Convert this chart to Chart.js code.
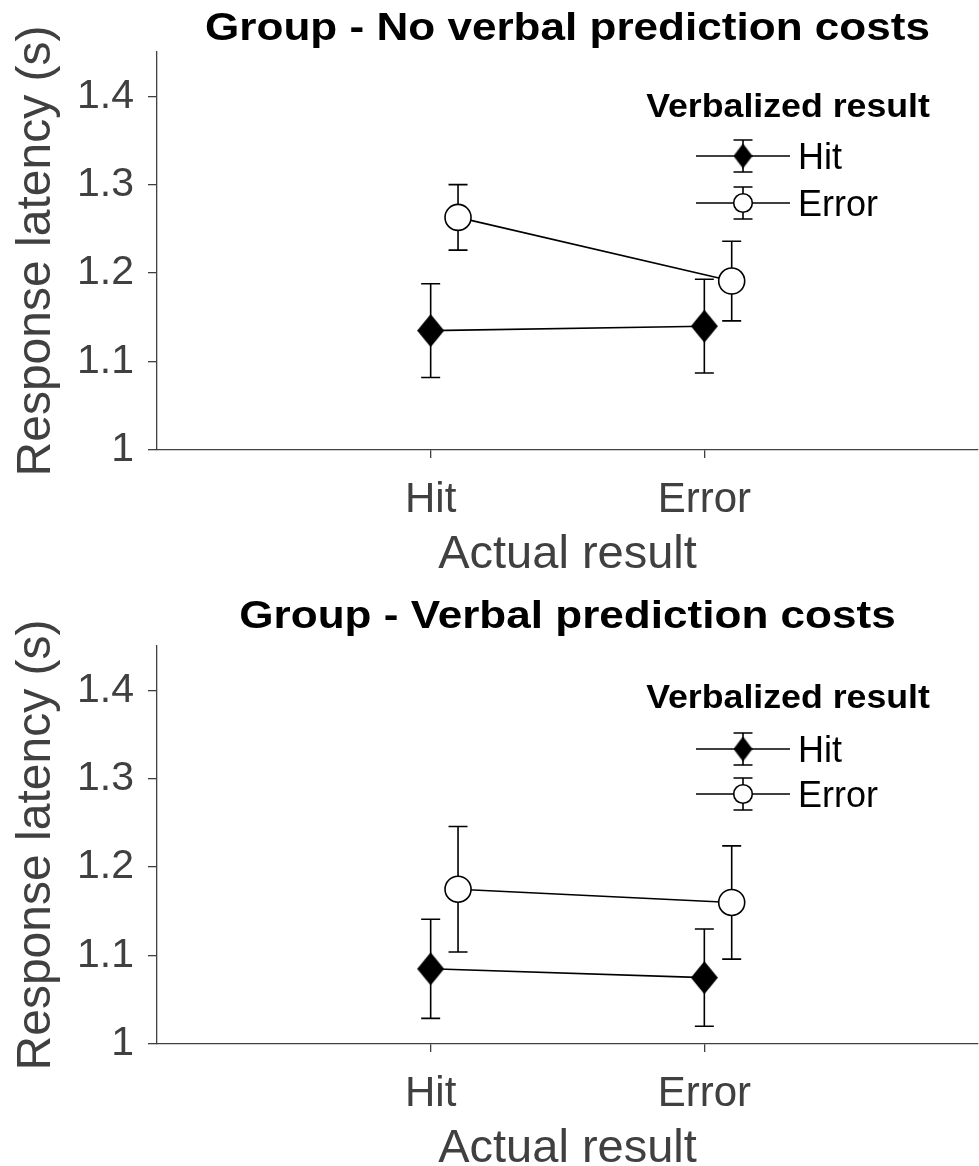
<!DOCTYPE html>
<html><head><meta charset="utf-8">
<script src="https://cdn.jsdelivr.net/npm/chart.js@4.4.1/dist/chart.umd.min.js"></script>
<style>
html,body{margin:0;padding:0;background:#fff;overflow:hidden;width:979px;height:1166px}
canvas{display:block;position:absolute;left:0}
#c1{top:0}#c2{top:594px}
</style></head>
<body>
<canvas id="c1" width="979" height="594"></canvas>
<canvas id="c2" width="979" height="594"></canvas>
<script>
// ---------- data ----------
const categories = ['Hit', 'Error'];          // actual result (x axis)
const categoryX = [1, 2];
const seriesNames = ['Hit', 'Error'];         // verbalized result (legend)
const panelTitles = ['Group - No verbal prediction costs', 'Group - Verbal prediction costs'];
const yTicks = [1, 1.1, 1.2, 1.3, 1.4];
const yTickLabels = ['1', '1.1', '1.2', '1.3', '1.4'];

// panel 1: no verbal prediction costs
const noCostHitMean = [1.135, 1.140];
const noCostHitErr  = [0.053, 0.053];
const noCostErrMean = [1.263, 1.191];
const noCostErrErr  = [0.037, 0.045];
// panel 2: verbal prediction costs
const costHitMean = [1.085, 1.075];
const costHitErr  = [0.056, 0.055];
const costErrMean = [1.175, 1.160];
const costErrErr  = [0.071, 0.064];

// ---------- style ----------
const FONT = '"Liberation Sans", Arial, Helvetica, sans-serif';
const AXIS = '#404040';
const seriesOffset = [0, 0.1];

function makeDiamond(hw, hh) {
  const c = document.createElement('canvas');
  c.width = Math.round(hw * 2); c.height = Math.round(hh * 2);
  const g = c.getContext('2d');
  g.fillStyle = '#000';
  g.beginPath();
  g.moveTo(c.width / 2, 0); g.lineTo(c.width, c.height / 2);
  g.lineTo(c.width / 2, c.height); g.lineTo(0, c.height / 2);
  g.closePath(); g.fill();
  return c;
}
const bigDiamond = makeDiamond(13.5, 16.5);
const smallDiamond = makeDiamond(9.5, 12.5);

function drawStretched(ctx, text, cx, baseline, font, sx, color, align) {
  ctx.save();
  ctx.font = font; ctx.fillStyle = color;
  ctx.textAlign = align || 'center'; ctx.textBaseline = 'alphabetic';
  ctx.translate(cx, baseline); ctx.scale(sx, 1);
  ctx.fillText(text, 0, 0);
  ctx.restore();
}

function errorBar(ctx, x, yTop, yBot, cap, lw) {
  ctx.beginPath();
  ctx.moveTo(x, yTop); ctx.lineTo(x, yBot);
  ctx.moveTo(x - cap, yTop); ctx.lineTo(x + cap, yTop);
  ctx.moveTo(x - cap, yBot); ctx.lineTo(x + cap, yBot);
  ctx.lineWidth = lw; ctx.strokeStyle = '#000'; ctx.stroke();
}

const errorBarPlugin = {
  id: 'errorBars',
  beforeDatasetsDraw(chart) {
    const ctx = chart.ctx, ys = chart.scales.y;
    ctx.save();
    chart.data.datasets.forEach((ds, i) => {
      const meta = chart.getDatasetMeta(i);
      ds.data.forEach((pt, j) => {
        const e = ds.errorBars[j];
        const x = meta.data[j].x;
        errorBar(ctx, x, ys.getPixelForValue(pt.y + e), ys.getPixelForValue(pt.y - e), 9.5, 1.6);
      });
    });
    ctx.restore();
  }
};

const panelTextPlugin = {
  id: 'panelText',
  afterDraw(chart, args, opts) {
    const ctx = chart.ctx, a = chart.chartArea;
    drawStretched(ctx, opts.title, (a.left + a.right) / 2, opts.titleBaseline,
      'bold 38px ' + FONT, 1.16, '#000');
    // legend
    const lx = opts.legendX;
    drawStretched(ctx, 'Verbalized result', lx, opts.legendTitleBaseline,
      'bold 34px ' + FONT, 1.05, '#000');
    seriesNames.forEach((name, i) => {
      const y = opts.legendY[i];
      ctx.save();
      ctx.beginPath(); ctx.moveTo(lx - 92, y); ctx.lineTo(lx + 2, y);
      ctx.lineWidth = 1.6; ctx.strokeStyle = '#000'; ctx.stroke();
      errorBar(ctx, lx - 45, y - 16, y + 16, 9.5, 1.6);
      if (i === 0) {
        ctx.drawImage(smallDiamond, lx - 45 - smallDiamond.width / 2, y - smallDiamond.height / 2);
      } else {
        ctx.beginPath(); ctx.arc(lx - 45, y, 9.3, 0, Math.PI * 2);
        ctx.fillStyle = '#fff'; ctx.fill();
        ctx.lineWidth = 1.6; ctx.strokeStyle = '#000'; ctx.stroke();
      }
      ctx.font = '36px ' + FONT; ctx.fillStyle = '#000';
      ctx.textAlign = 'left'; ctx.textBaseline = 'alphabetic';
      ctx.fillText(name, lx + 10, y + 13);
      ctx.restore();
    });
  }
};

function buildChart(id, title, hitMean, hitErr, errMean, errErr, layout) {
  const means = [hitMean, errMean], errs = [hitErr, errErr];
  const datasets = seriesNames.map((name, s) => ({
    label: name,
    data: categoryX.map((x, j) => ({ x: x + seriesOffset[s], y: means[s][j] })),
    errorBars: errs[s],
    showLine: true,
    borderColor: '#000',
    borderWidth: 1.6,
    pointStyle: s === 0 ? bigDiamond : 'circle',
    pointRadius: 13,
    pointBackgroundColor: s === 0 ? '#000' : '#fff',
    pointBorderColor: '#000',
    pointBorderWidth: 1.6,
    fill: false,
    tension: 0
  }));
  return new Chart(document.getElementById(id), {
    type: 'scatter',
    data: { datasets },
    plugins: [errorBarPlugin, panelTextPlugin],
    options: {
      responsive: false, animation: false, devicePixelRatio: 1,
      layout: { autoPadding: false, padding: { top: 52, right: 1, left: 0, bottom: 0 } },
      plugins: {
        legend: { display: false }, title: { display: false }, tooltip: { enabled: false },
        panelText: Object.assign({ title }, layout)
      },
      scales: {
        x: {
          type: 'linear', min: 0, max: 3,
          afterBuildTicks: s => { s.ticks = categoryX.map(v => ({ value: v })); },
          afterFit: s => { s.height = 144; },
          ticks: { callback: (v, i) => categories[i], font: { family: FONT, size: 42 }, color: AXIS,
                   padding: 17, maxRotation: 0, autoSkip: false },
          grid: { drawOnChartArea: false, drawTicks: true, tickLength: 8, color: AXIS, lineWidth: 1.3 },
          border: { display: true, color: AXIS, width: 1.3 },
          title: { display: true, text: 'Actual result', font: { family: FONT, size: 47 }, color: AXIS,
                   padding: { top: 0, bottom: 11 } }
        },
        y: {
          type: 'linear', min: 1, max: 1.45,
          afterBuildTicks: s => { s.ticks = yTicks.map(v => ({ value: v })); },
          afterFit: s => { s.width = 157; },
          ticks: { callback: (v, i) => yTickLabels[i], font: { family: FONT, size: 41 }, color: AXIS, padding: 14 },
          grid: { drawOnChartArea: false, drawTicks: true, tickLength: 9, color: AXIS, lineWidth: 1.3 },
          border: { display: true, color: AXIS, width: 1.3 },
          title: { display: true, text: 'Response latency (s)', font: { family: FONT, size: 48 }, color: AXIS,
                   padding: { top: 8, bottom: 0 } }
        }
      }
    }
  });
}

buildChart('c1', panelTitles[0], noCostHitMean, noCostHitErr, noCostErrMean, noCostErrErr,
  { titleBaseline: 40, legendX: 788, legendTitleBaseline: 117, legendY: [156, 203] });
buildChart('c2', panelTitles[1], costHitMean, costHitErr, costErrMean, costErrErr,
  { titleBaseline: 34, legendX: 788, legendTitleBaseline: 114, legendY: [155, 200] });
</script>
</body></html>
